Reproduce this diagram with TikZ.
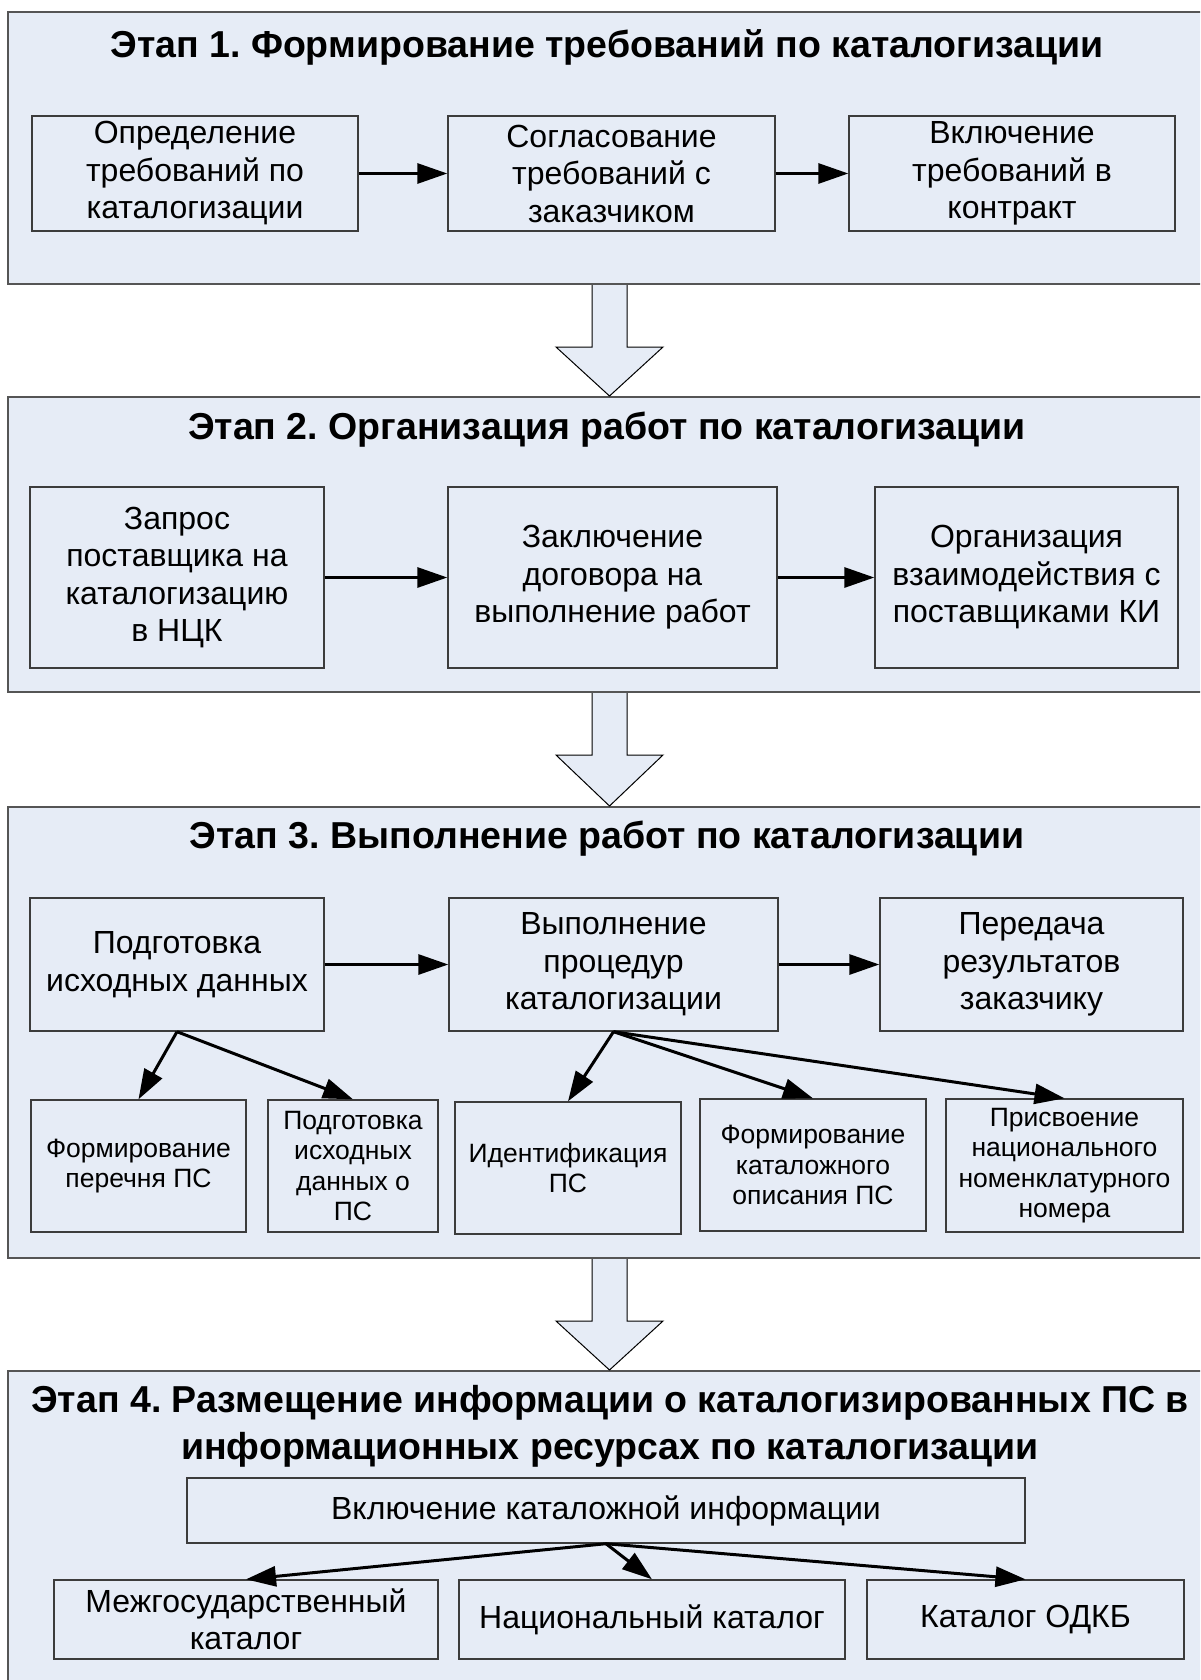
\documentclass[tikz,border=0pt]{standalone}
\usepackage{fontspec}
\setmainfont{Liberation Sans}
\usepackage{tikz}
\usetikzlibrary{
  arrows.meta,
  positioning,
  calc
}
\frenchspacing
\definecolor{ctPanel}{HTML}{E6ECF6}
\definecolor{ctEdge}{HTML}{555555}
\definecolor{ctBox}{HTML}{3C3C3C}
\tikzset{
  panel/.style={
    draw=ctEdge, line width=2pt, fill=ctPanel, anchor=north west,
    minimum width=1203pt, inner sep=0pt
  },
  stagetitle/.style={font=\fontsize{37.5}{47}\selectfont\bfseries, align=center, inner sep=0pt},
  stagebox/.style={
    draw=ctBox, line width=1.4pt, fill=ctPanel, inner sep=0pt, align=center,
    font=\fontsize{32}{37.5}\selectfont
  },
  subbox/.style={stagebox, font=\fontsize{26.5}{30.5}\selectfont},
  flow/.style={-{Triangle[length=30pt, width=20pt]}, line width=3pt, black},
  bigarrow/.style={draw=black, line width=1pt, fill=ctPanel, line join=miter}
}
\newcommand{\stagearrow}[2]{%
  \draw[bigarrow] ($(#1.south)+(-17.5,0)$) -- ($(#1.south)+(-17.5,62)$)
    -- ($(#1.south)+(-53.5,62)$) -- (#2.north) -- ($(#1.south)+(53.5,62)$)
    -- ($(#1.south)+(17.5,62)$) -- ($(#1.south)+(17.5,0)$);}

\begin{document}
\begin{tikzpicture}[x=1pt, y=-1pt]
  \clip (0,0) rectangle (1200,1680);
  \fill[white] (0,0) rectangle (1200,1680);

  \node[panel, minimum height=272pt] (s1) at (7,11) {};
  \node[panel, minimum height=295pt] (s2) at (7,396) {};
  \node[panel, minimum height=451pt] (s3) at (7,806) {};
  \node[panel, minimum height=340pt] (s4) at (7,1370) {};

  \stagearrow{s1}{s2}
  \stagearrow{s2}{s3}
  \stagearrow{s3}{s4}

  \node[stagetitle] (t1) at (607,47) {Этап 1. Формирование требований по каталогизации};
  \node[stagebox, minimum width=326pt, minimum height=115pt] (req) at (195,173.5) {Определение\\требований по\\каталогизации};
  \node[stagebox, minimum width=327pt, minimum height=115pt] (agree) at (611.5,173.5) {Согласование\\требований с\\заказчиком};
  \node[stagebox, minimum width=326pt, minimum height=115pt] (contract) at (1012,173.5) {Включение\\требований в\\контракт};
  \draw[flow] (req) -- (agree);
  \draw[flow] (agree) -- (contract);

  \node[stagetitle] (t2) at (607,430) {Этап 2. Организация работ по каталогизации};
  \node[stagebox, minimum width=294pt, minimum height=181pt] (query) at (177,577.5) {Запрос\\поставщика на\\каталогизацию\\в НЦК};
  \node[stagebox, minimum width=329pt, minimum height=181pt] (deal) at (612.5,577.5) {Заключение\\договора на\\выполнение работ};
  \node[stagebox, minimum width=303pt, minimum height=181pt] (links) at (1026.5,577.5) {Организация\\взаимодействия с\\поставщиками КИ};
  \draw[flow] (query) -- (deal);
  \draw[flow] (deal) -- (links);

  \node[stagetitle] (t3) at (607,839) {Этап 3. Выполнение работ по каталогизации};
  \node[stagebox, minimum width=294pt, minimum height=133pt] (prep) at (177,964.5) {Подготовка\\исходных данных};
  \node[stagebox, minimum width=329pt, minimum height=133pt] (proc) at (613.5,964.5) {Выполнение\\процедур\\каталогизации};
  \node[stagebox, minimum width=303pt, minimum height=133pt] (hand) at (1031.5,964.5) {Передача\\результатов\\заказчику};
  \draw[flow] (prep) -- (proc);
  \draw[flow] (proc) -- (hand);

  \node[subbox, minimum width=215pt, minimum height=132pt] (list) at (138.5,1166) {Формирование\\перечня ПС};
  \node[subbox, minimum width=170pt, minimum height=132pt] (src) at (353,1166) {Подготовка\\исходных\\данных о\\ПС};
  \node[subbox, minimum width=226pt, minimum height=132pt] (ident) at (568,1168) {Идентификация\\ПС};
  \node[subbox, minimum width=226pt, minimum height=132pt] (descr) at (813,1165) {Формирование\\каталожного\\описания ПС};
  \node[subbox, minimum width=237pt, minimum height=133pt] (nsn) at (1064.5,1165.5) {Присвоение\\национального\\номенклатурного\\номера};
  \draw[flow] (prep.south) -- (list.north);
  \draw[flow] (prep.south) -- (src.north);
  \draw[flow] (proc.south) -- (ident.north);
  \draw[flow] (proc.south) -- (descr.north);
  \draw[flow] (proc.south) -- (nsn.north);

  \node[stagetitle] (t4) at (610,1426) {Этап 4. Размещение информации о каталогизированных ПС в\\информационных ресурсах по каталогизации};
  \node[stagebox, minimum width=838pt, minimum height=65pt] (incl) at (606,1510.5) {Включение каталожной информации};
  \node[stagebox, minimum width=384pt, minimum height=79pt] (inter) at (246,1619.5) {Межгосударственный\\каталог};
  \node[stagebox, minimum width=386pt, minimum height=79pt] (nat) at (652,1619.5) {Национальный каталог};
  \node[stagebox, minimum width=317pt, minimum height=79pt] (odkb) at (1025.5,1619.5) {Каталог ОДКБ};
  \draw[flow] (incl.south) -- (inter.north);
  \draw[flow] (incl.south) -- (nat.north);
  \draw[flow] (incl.south) -- (odkb.north);
\end{tikzpicture}
\end{document}
